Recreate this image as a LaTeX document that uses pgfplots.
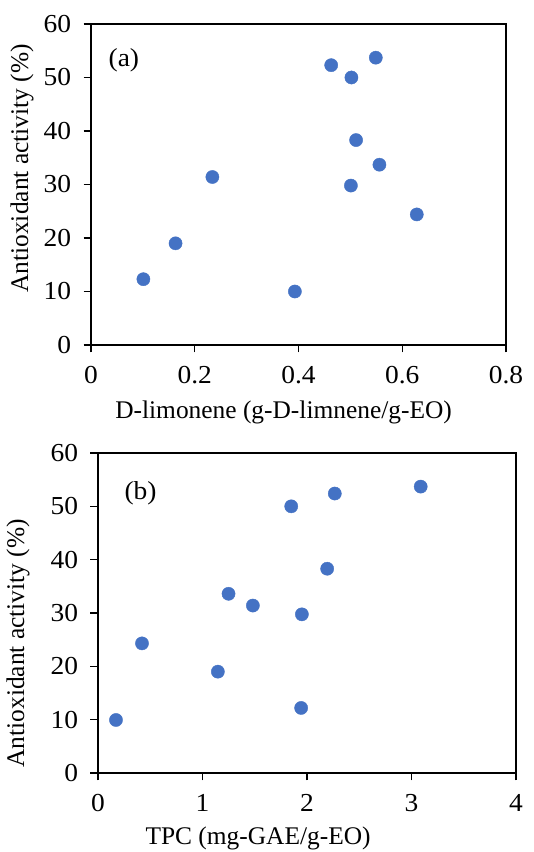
\documentclass[border=0pt]{standalone}
\usepackage{fontspec}
\setmainfont{Liberation Serif}
\newfontfamily\tickfont[FakeStretch=1.06]{Liberation Serif}
\usepackage{pgfplots}
\pgfplotsset{compat=1.18}
\definecolor{dotblue}{HTML}{4472C4}
\pgfplotsset{
  myax/.style={
    anchor=south west, scale only axis,
    ymin=0, ymax=60, ytick={0,10,20,30,40,50,60},
    tick align=outside, xtick pos=bottom, ytick pos=left,
    major tick length=7.5bp,
    axis line style={line width=1.2bp, black},
    every tick/.style={line width=1.2bp, black},
    font=\fontsize{25.5}{30}\selectfont,
    /pgf/number format/assume math mode=true,
    ticklabel style={font=\tickfont\fontsize{26}{30}\selectfont},
    xticklabel style={yshift=-10bp},
    yticklabel style={xshift=-9bp},
    ylabel={Antioxidant activity (\%)},
    clip=false,
  },
  dots/.style={only marks, mark=*, mark size=6.6bp, mark options={fill=dotblue, draw=dotblue}},
}
\begin{document}
\begin{tikzpicture}[x=1bp,y=1bp]
\path[use as bounding box] (0,0) rectangle (534,852);
\begin{axis}[myax, at={(91bp,507bp)}, width=415bp, height=321bp,
  xmin=0, xmax=0.8, xtick={0,0.2,0.4,0.6,0.8},
  xticklabels={0,0.2,0.4,0.6,0.8},
  xlabel={D-limonene (g-D-limnene/g-EO)},
  xlabel style={at={(axis description cs:0.464,-0.209)}, anchor=center},
  ylabel style={at={(axis description cs:-0.166,0.55)}, anchor=center},
]
\addplot[dots] table {
x y
0.463 52.3
0.502 50.0
0.549 53.7
0.511 38.3
0.556 33.7
0.501 29.8
0.628 24.4
0.234 31.4
0.163 19.0
0.101 12.3
0.393 10.0
};
\node[anchor=west, font=\tickfont\fontsize{26}{30}\selectfont] at (axis description cs:0.034,0.888) {(a)};
\end{axis}
\begin{axis}[myax, at={(98bp,79bp)}, width=418bp, height=320bp,
  xmin=0, xmax=4, xtick={0,1,2,3,4},
  xlabel={TPC (mg-GAE/g-EO)},
  xlabel style={at={(axis description cs:0.383,-0.203)}, anchor=center},
  ylabel style={at={(axis description cs:-0.191,0.405)}, anchor=center},
]
\addplot[dots] table {
x y
3.088 53.7
2.266 52.4
1.849 50.0
2.193 38.3
1.249 33.6
1.482 31.4
1.951 29.75
0.421 24.3
1.147 19.0
1.944 12.2
0.172 9.94
};
\node[anchor=west, font=\tickfont\fontsize{26}{30}\selectfont] at (axis description cs:0.055,0.875) {(b)};
\end{axis}
\end{tikzpicture}
\end{document}
